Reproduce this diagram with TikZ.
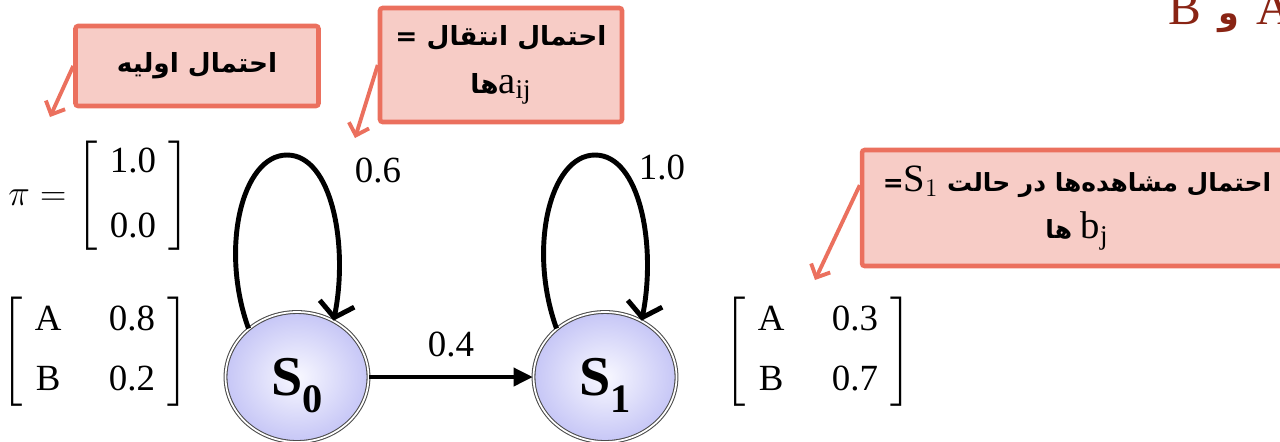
\documentclass[tikz,border=0pt]{standalone}
\usepackage{amsmath}
\usepackage{fontspec}
\setmainfont{Liberation Serif}
\newfontfamily\farsifont[Script=Arabic]{DejaVu Sans}
\TeXXeTstate=1
\usetikzlibrary{arrows.meta,positioning,shapes.geometric}
\definecolor{notefill}{RGB}{247,204,198}
\definecolor{noteline}{RGB}{235,112,94}
\definecolor{statein}{RGB}{248,248,255}
\definecolor{stateout}{RGB}{198,198,246}
\definecolor{titlered}{RGB}{137,36,20}
\newcommand{\fa}[1]{{\farsifont\bfseries\beginR #1\endR}}
\newcommand{\mathin}[1]{\hbox{\fontsize{22}{22}\selectfont$#1$}}
\newcommand{\obsmat}[2]{$\left[\begin{array}{@{\hspace{7pt}}c@{\hspace{27pt}}c@{\hspace{7pt}}}\text{A} & \text{#1}\\[9pt] \text{B} & \text{#2}\end{array}\right]$}
\newcommand{\statename}[1]{S\raisebox{-0.3em}{\fontsize{23}{23}\selectfont #1}}

\begin{document}
\begin{tikzpicture}[x=0.02cm,y=-0.02cm,
  notebox/.style={draw=noteline,fill=notefill,line width=2.6pt,rounded corners=1.5pt,
    align=center,inner sep=0pt,font=\fontsize{15}{27}\selectfont},
  notearrow/.style={draw=noteline,line width=2.2pt,-{Straight Barb[length=6pt,width=12pt]}},
  hmmstate/.style={ellipse,draw=black!70,line width=0.6pt,double=white,double distance=1pt,
    inner color=statein,outer color=stateout,minimum width=2.86cm,minimum height=2.6cm,
    text depth=0pt,font=\fontsize{32}{32}\selectfont\bfseries},
  trans/.style={line width=2.8pt,-{Triangle[length=11pt,width=10pt]}},
  selfloop/.style={line width=2.8pt,-{Straight Barb[length=8pt,width=20pt]}},
  prob/.style={inner sep=0pt,font=\fontsize{21}{25}\selectfont}]
\useasboundingbox (0,0) rectangle (1280,441);

% initial and emission probabilities
\node[prob,anchor=west] (pi) at (8,196)
  {$\pi = \left[\begin{array}{@{\hspace{7pt}}c@{\hspace{7pt}}}\text{1.0}\\[12pt] \text{0.0}\end{array}\right]$};
\node[prob] (b0) at (95,352) {\obsmat{0.8}{0.2}};
\node[prob] (b1) at (818,352) {\obsmat{0.3}{0.7}};

% states and transitions
\node[hmmstate] (s0) at (297,377) {\statename{0}};
\node[hmmstate] (s1) at (605,377) {\statename{1}};
\coordinate (s0top) at (287,155);
\coordinate (s1top) at (595,155);
\draw[trans] (s0) -- node[prob,above=10pt] (a01) {0.4} (s1);
\draw[selfloop] (s0.135) .. controls +(-29,-80) and +(-45,0) .. (s0top) .. controls +(45,0) and +(15,-75) .. (s0.57);
\draw[selfloop] (s1.135) .. controls +(-29,-80) and +(-45,0) .. (s1top) .. controls +(45,0) and +(15,-75) .. (s1.57);
\node[prob] (a00) at (378,170) {0.6};
\node[prob] (a11) at (662,167) {1.0};

% callouts
\node[notebox,minimum width=4.86cm,minimum height=1.6cm] (n1) at (197,66) {\fa{احتمال اولیه}};
\node[notebox,minimum width=4.84cm,minimum height=2.28cm] (n2) at (501,65)
  {\fa{احتمال انتقال =}\\\fa{\mathin{\mathrm{a}_{\mathrm{ij}}}ها}};
\node[notebox,minimum width=8.6cm,minimum height=2.32cm,font=\fontsize{14.2}{27}\selectfont] (n3) at (1077,208)
  {\fa{احتمال مشاهده‌ها در حالت \mathin{\mathrm{S}_1}=}\\\fa{\mathin{\mathrm{b}_{\mathrm{j}}} ها}};
\coordinate (t1) at (50,117);
\coordinate (t2) at (355,138);
\coordinate (t3) at (815,280);
\draw[notearrow] (n1.west) -- (t1);
\draw[notearrow] (n2.west) -- (t2);
\draw[notearrow] (n3.174) -- (t3);

\node[anchor=base west,text=titlered,inner sep=0pt,font=\fontsize{28}{28}\selectfont] (title) at (1168,24)
  {\fa{{\rmfamily\mdseries A} {\fontsize{19}{19}\selectfont و} {\rmfamily\mdseries B}}};
\end{tikzpicture}
\end{document}
